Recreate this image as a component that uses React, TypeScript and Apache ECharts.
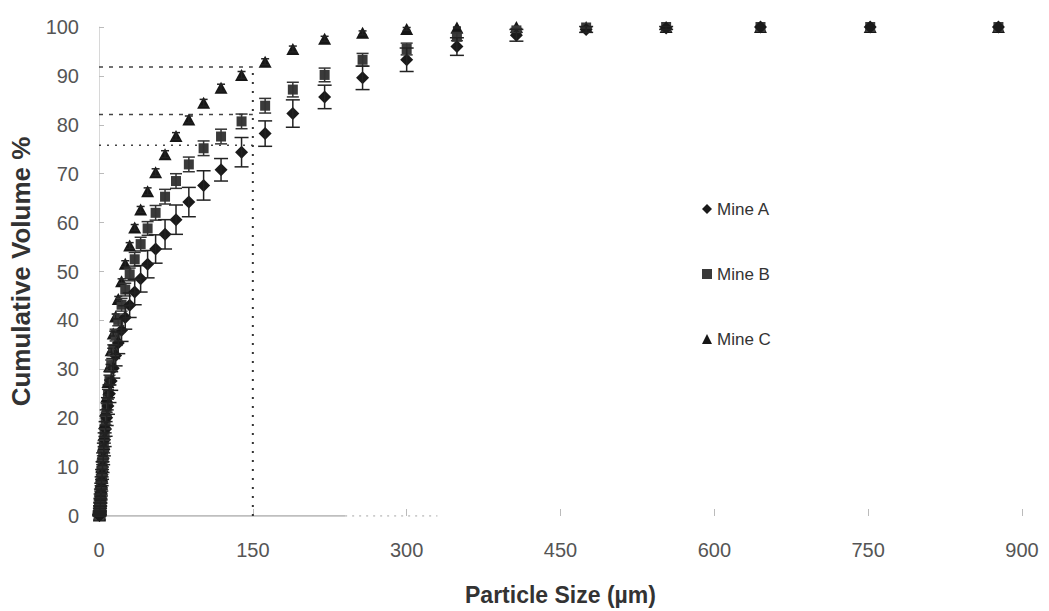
import React, { useEffect, useRef } from "react";
import * as echarts from "echarts";

// Particle sizes (µm), largest to smallest
const sizes = [877, 752, 645, 553, 475, 407, 349, 300, 257, 220, 189, 162, 139, 119, 102,
  87.6, 75.1, 64.4, 55.2, 47.4, 40.6, 34.8, 29.9, 25.6, 22.0, 18.8, 16.2, 13.9, 11.9, 10.2,
  8.74, 7.5, 6.43, 5.51, 4.73, 4.06, 3.48, 2.98, 2.56, 2.19, 1.88, 1.61, 1.38, 1.19, 1.02,
  0.87, 0.75, 0.64, 0.55, 0.47, 0.40];

const mineA = [100, 100, 100, 99.8, 99.5, 98.3, 96.0, 93.3, 89.6, 85.7, 82.3, 78.2, 74.4, 70.8, 67.6,
  64.2, 60.6, 57.6, 54.6, 51.5, 48.5, 45.8, 43.1, 40.6, 38.0, 35.4, 32.8, 30.2, 27.6, 25.0,
  22.5, 20.1, 17.8, 15.6, 13.6, 11.7, 10.0, 8.5, 7.1, 5.9, 4.8, 3.9, 3.1, 2.4, 1.8,
  1.3, 0.9, 0.6, 0.35, 0.2, 0.1];
const errA = [0, 0, 0, 0.3, 0.6, 1.2, 1.8, 2.4, 2.4, 2.4, 2.8, 2.6, 3.0, 2.3, 3.0,
  3.0, 3.0, 3.0, 2.9, 2.8, 2.7, 2.6, 2.5, 2.4, 2.3, 2.2, 2.1, 2.0, 1.9, 1.8,
  1.7, 1.6, 1.5, 1.4, 1.3, 1.2, 1.1, 1.0, 0.9, 0.8, 0.7, 0.6, 0.5, 0.4, 0.3,
  0.3, 0.2, 0.2, 0.1, 0.1, 0.1];

const mineB = [100, 100, 100, 100, 99.9, 99.3, 98.0, 95.5, 93.3, 90.2, 87.2, 83.9, 80.7, 77.6, 75.2,
  71.9, 68.5, 65.3, 62.0, 58.8, 55.6, 52.5, 49.4, 46.3, 43.2, 40.1, 37.0, 33.9, 30.8, 27.8,
  24.9, 22.1, 19.5, 17.0, 14.7, 12.6, 10.7, 9.0, 7.5, 6.2, 5.0, 4.0, 3.2, 2.5, 1.9,
  1.4, 1.0, 0.65, 0.4, 0.2, 0.1];
const errB = [0, 0, 0, 0, 0.1, 0.4, 0.8, 1.2, 1.3, 1.4, 1.5, 1.5, 1.5, 1.5, 1.5,
  1.5, 1.5, 1.5, 1.5, 1.4, 1.4, 1.4, 1.3, 1.3, 1.3, 1.2, 1.2, 1.1, 1.1, 1.0,
  1.0, 0.9, 0.9, 0.8, 0.8, 0.7, 0.7, 0.6, 0.6, 0.5, 0.5, 0.4, 0.4, 0.3, 0.3,
  0.2, 0.2, 0.1, 0.1, 0.1, 0.1];

const mineC = [100, 100, 100, 100, 100, 100, 99.9, 99.6, 98.8, 97.6, 95.5, 92.9, 90.2, 87.6, 84.5,
  81.1, 77.7, 74.0, 70.3, 66.4, 62.7, 59.0, 55.3, 51.6, 48.0, 44.4, 40.8, 37.3, 33.9, 30.6,
  27.4, 24.4, 21.6, 19.0, 16.5, 14.2, 12.1, 10.2, 8.5, 7.0, 5.7, 4.6, 3.7, 2.9, 2.2,
  1.6, 1.1, 0.7, 0.4, 0.2, 0.1];
const errC = [0, 0, 0, 0, 0, 0, 0.1, 0.3, 0.4, 0.5, 0.6, 0.6, 0.7, 0.7, 0.7,
  0.7, 0.7, 0.7, 0.7, 0.7, 0.6, 0.6, 0.6, 0.6, 0.5, 0.5, 0.5, 0.5, 0.4, 0.4,
  0.4, 0.4, 0.3, 0.3, 0.3, 0.3, 0.2, 0.2, 0.2, 0.2, 0.1, 0.1, 0.1, 0.1, 0.1,
  0.1, 0.1, 0.1, 0.1, 0.1, 0.1];

const seriesNames = ["Mine A", "Mine B", "Mine C"];
const xTicks = { min: 0, max: 900, interval: 150 };
const yTicks = { min: 0, max: 100, interval: 10 };
// reference (dashed) levels read at 150 µm
const refSize = 150;
const refLevels = [91.8, 82.1, 75.8];
// visible extent of the x axis line in the original
const axisSolidEnd = 240;
const axisDotEnd = 330;

const FONT = "'Liberation Sans', Arial, sans-serif";

function errData(vals: number[], errs: number[]) {
  return sizes
    .map((s, i) => [s, vals[i] - errs[i], vals[i] + errs[i], errs[i]])
    .filter((d) => d[3] > 0.05);
}

function errSeries(vals: number[], errs: number[], color: string, half: number) {
  return {
    type: "custom",
    silent: true,
    z: 4,
    encode: { x: 0, y: [1, 2] },
    data: errData(vals, errs),
    renderItem: (params: any, api: any) => {
      const x = api.value(0);
      const top = api.coord([x, api.value(2)]);
      const bot = api.coord([x, api.value(1)]);
      const st = { stroke: color, lineWidth: 1.5 };
      return {
        type: "group",
        children: [
          { type: "line", shape: { x1: top[0], y1: top[1], x2: bot[0], y2: bot[1] }, style: st },
          { type: "line", shape: { x1: top[0] - half, y1: top[1], x2: top[0] + half, y2: top[1] }, style: st },
          { type: "line", shape: { x1: bot[0] - half, y1: bot[1], x2: bot[0] + half, y2: bot[1] }, style: st },
        ],
      };
    },
  };
}

export default function App() {
  const ref = useRef<HTMLDivElement>(null);
  useEffect(() => {
    if (!ref.current) return;
    const chart = echarts.init(ref.current, undefined, { renderer: "svg" });
    const refColor = "#444";
    const option: any = {
      animation: false,
      backgroundColor: "#ffffff",
      textStyle: { fontFamily: FONT },
      grid: { left: 99, right: 27, top: 27, bottom: 93 },
      legend: {
        orient: "vertical",
        left: 697,
        top: 194,
        itemGap: 45,
        itemWidth: 10,
        itemHeight: 10,
        data: seriesNames,
        textStyle: { fontSize: 17, color: "#333", fontFamily: FONT, lineHeight: 20 },
      },
      xAxis: {
        type: "value",
        min: xTicks.min,
        max: xTicks.max,
        interval: xTicks.interval,
        name: "Particle Size (µm)",
        nameLocation: "middle",
        nameGap: 67,
        nameTextStyle: { fontSize: 23, fontWeight: "bold", color: "#333", fontFamily: FONT },
        axisLine: { show: false },
        axisTick: { show: true, inside: true, length: 7, lineStyle: { color: "#bbb" } },
        axisLabel: { fontSize: 20, color: "#555", margin: 24, fontFamily: FONT },
        splitLine: { show: false },
      },
      yAxis: {
        type: "value",
        min: yTicks.min,
        max: yTicks.max,
        interval: yTicks.interval,
        name: "Cumulative Volume %",
        nameLocation: "middle",
        nameGap: 65,
        nameTextStyle: { fontSize: 26, fontWeight: "bold", color: "#333", fontFamily: FONT },
        axisLine: { show: true, lineStyle: { color: "#d8d8d8" } },
        axisTick: { show: true, inside: true, length: 5, lineStyle: { color: "#bbb" } },
        axisLabel: { fontSize: 20, color: "#555", margin: 20, fontFamily: FONT },
        splitLine: { show: false },
      },
      series: [
        {
          type: "line",
          silent: true,
          symbol: "none",
          z: 1,
          data: [[xTicks.min, 0], [axisSolidEnd, 0]],
          lineStyle: { color: "#aaa", width: 1.5 },
        },
        {
          type: "line",
          silent: true,
          symbol: "none",
          z: 1,
          data: [[axisSolidEnd, 0], [axisDotEnd, 0]],
          lineStyle: { color: "#bbb", width: 1.5, type: [2, 5] },
        },
        ...refLevels.map((lv, i) => ({
          type: "line",
          silent: true,
          symbol: "none",
          z: 1,
          data: [[0, lv], [refSize, lv]],
          lineStyle: { color: refColor, width: 1.5, type: i === 2 ? [2, 6] : [4, 6] },
        })),
        {
          type: "line",
          silent: true,
          symbol: "none",
          z: 1,
          data: [[refSize, 0], [refSize, refLevels[0]]],
          lineStyle: { color: "#333", width: 2, type: [2, 7] },
        },
        {
          name: "Mine C",
          type: "scatter",
          symbol: "triangle",
          symbolSize: [13, 12],
          z: 3,
          itemStyle: { color: "#161616", opacity: 1 },
          data: sizes.map((s, i) => [s, mineC[i]]),
        },
        {
          name: "Mine B",
          type: "scatter",
          symbol: "rect",
          symbolSize: 10,
          z: 3,
          itemStyle: { color: "#3a3a3a", opacity: 1 },
          data: sizes.map((s, i) => [s, mineB[i]]),
        },
        {
          name: "Mine A",
          type: "scatter",
          symbol: "diamond",
          symbolSize: 13,
          z: 3,
          itemStyle: { color: "#1a1a1a", opacity: 1 },
          data: sizes.map((s, i) => [s, mineA[i]]),
        },
        errSeries(mineC, errC, "#222", 4),
        errSeries(mineB, errB, "#333", 6),
        errSeries(mineA, errA, "#222", 7),
      ],
    };
    chart.setOption(option);
    return () => chart.dispose();
  }, []);
  return <div ref={ref} style={{ width: 1049, height: 611, position: "absolute", left: 0, top: 0 }} />;
}
